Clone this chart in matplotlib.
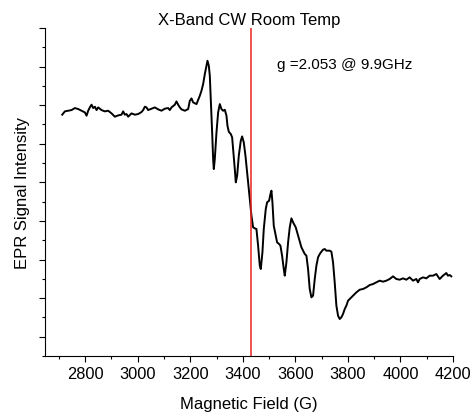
import matplotlib
matplotlib.use("Agg")
import matplotlib.pyplot as plt
from matplotlib.ticker import MultipleLocator, NullFormatter

plt.rcParams['font.family'] = ['Liberation Sans', 'DejaVu Sans']

# spettro EPR (campo in G, intensita' in unita' arbitrarie)
field = [2712.6, 2722.7, 2735.4, 2748.1, 2760.8, 2773.5, 2786.1, 2798.8, 2805.2, 2811.5,
         2817.8, 2824.2, 2830.5, 2836.9, 2843.2, 2849.5, 2862.2, 2874.9, 2887.6, 2900.3,
         2906.6, 2913.0, 2925.6, 2938.3, 2944.6, 2951.0, 2957.3, 2963.7, 2976.3, 2989.0,
         3001.7, 3014.4, 3020.7, 3027.1, 3033.4, 3039.7, 3052.4, 3065.1, 3077.8, 3090.5,
         3103.1, 3115.8, 3122.2, 3128.5, 3141.2, 3147.5, 3153.9, 3160.2, 3166.5,
         3179.3, 3192.0, 3198.3, 3204.7, 3211.0, 3223.7, 3236.4, 3242.7, 3249.0, 3255.4,
         3261.7, 3265.5, 3270.6, 3274.4, 3278.2, 3283.3, 3287.1, 3289.6, 3293.4, 3299.8,
         3306.1, 3312.4, 3318.8, 3325.1, 3331.5, 3337.8, 3341.6, 3346.7, 3354.3, 3359.4,
         3363.2, 3369.5, 3373.3, 3378.4, 3384.7, 3392.3, 3397.4, 3403.7, 3410.1, 3416.4,
         3422.8,
         3432.9, 3439.2, 3445.6, 3451.9, 3458.2, 3464.6, 3468.4, 3474.7, 3479.8, 3487.4,
         3492.5, 3500.1, 3505.2, 3509.0, 3512.8, 3517.8, 3525.4, 3530.5, 3538.1, 3543.2,
         3549.5, 3555.9, 3559.7, 3566.0, 3572.4, 3578.7, 3585.0, 3591.4, 3601.5, 3610.4,
         3623.1, 3635.8, 3642.1, 3648.4,
         3654.7, 3661.1, 3667.4, 3673.8, 3680.1, 3686.4, 3692.8, 3699.1, 3705.5, 3711.8,
         3718.1, 3730.8, 3737.2, 3743.5, 3749.8, 3756.2, 3762.5, 3768.9, 3775.2, 3781.5,
         3787.9, 3794.2, 3800.6, 3806.9, 3819.6, 3832.3, 3845.0, 3857.6, 3870.3, 3883.0,
         3895.7, 3908.3, 3921.0, 3933.7, 3946.4, 3959.1, 3971.7, 3984.4, 3997.1, 4009.8,
         4022.5, 4035.1, 4047.8, 4060.5, 4066.8, 4073.2, 4085.9, 4098.5, 4111.2, 4123.9,
         4136.6, 4149.3, 4161.9, 4174.6, 4180.9, 4187.3, 4193.6]
intensity = [6.253, 6.339, 6.356, 6.373, 6.425, 6.399, 6.356, 6.313, 6.227, 6.356,
             6.442, 6.512, 6.425, 6.460, 6.373, 6.442, 6.373, 6.339, 6.356, 6.287,
             6.244, 6.201, 6.235, 6.253, 6.339, 6.253, 6.270, 6.201, 6.287, 6.253,
             6.270, 6.322, 6.373, 6.460, 6.442, 6.373, 6.408, 6.442, 6.391, 6.356,
             6.408, 6.425, 6.373, 6.442, 6.512, 6.598, 6.512, 6.442, 6.391,
             6.355, 6.399, 6.614, 6.675, 6.571, 6.528, 6.744, 6.874, 7.046, 7.305,
             7.521, 7.651, 7.521, 7.262, 6.658, 5.794, 5.103, 4.844, 5.103, 5.794,
             6.312, 6.528, 6.399, 6.355, 6.381, 6.226, 5.967, 5.811, 5.751, 5.664,
             5.362, 4.844, 4.499, 4.671, 5.190, 5.578, 5.690, 5.535, 5.190, 4.758,
             4.326,
             3.636, 3.334, 3.308, 3.291, 2.859, 2.341, 2.254, 2.686, 3.291, 3.809,
             3.981, 4.025, 4.197, 4.284, 3.981, 3.377, 3.118, 2.945, 2.902, 2.859,
             2.600, 2.254, 2.081, 2.427, 2.945, 3.334, 3.567, 3.463, 3.334, 3.118,
             2.816, 2.643, 2.600, 2.254,
             1.736, 1.520, 1.563, 1.995, 2.340, 2.556, 2.642, 2.703, 2.755, 2.772,
             2.729, 2.729, 2.703, 2.427, 1.908, 1.304, 1.045, 0.958, 1.002, 1.088,
             1.217, 1.304, 1.433, 1.477, 1.563, 1.649, 1.718, 1.736, 1.779, 1.839,
             1.865, 1.908, 1.952, 1.926, 1.952, 1.995, 2.064, 1.995, 1.977, 2.012,
             1.977, 2.038, 1.952, 1.995, 1.908, 1.995, 2.038, 2.012, 2.081, 2.081,
             2.124, 1.995, 2.081, 2.150, 2.081, 2.098, 2.064]

g_field = 3430
x_ticks = [2800, 3000, 3200, 3400, 3600, 3800, 4000, 4200]

fig = plt.figure(figsize=(4.72, 4.14), dpi=100)
ax = fig.add_axes([0.0953, 0.1377, 0.8644, 0.7923])

ax.plot(field, intensity, color='black', lw=1.4)
ax.axvline(g_field, color='#e8231f', lw=1.1)

ax.set_xlim(2647, 4200)
ax.set_ylim(0, 8.5)
ax.set_xticks(x_ticks)
ax.xaxis.set_minor_locator(MultipleLocator(100))
ax.set_yticks([0.5 + k for k in range(9)])
ax.yaxis.set_minor_locator(MultipleLocator(1))
ax.yaxis.set_major_formatter(NullFormatter())

for s in ['top', 'right']:
    ax.spines[s].set_visible(False)
for s in ['left', 'bottom']:
    ax.spines[s].set_linewidth(0.8)

ax.tick_params(which='major', direction='out', length=4, width=0.8, labelsize=11.8, pad=3)
ax.tick_params(which='minor', direction='out', length=2.5, width=0.8)

ax.set_title("X-Band CW Room Temp", fontsize=12, pad=3)
ax.set_xlabel("Magnetic Field (G)", fontsize=12, labelpad=11)
ax.set_ylabel("EPR Signal Intensity", fontsize=12, labelpad=4)
ax.text(3529, 7.56, "g =2.053 @ 9.9GHz", fontsize=11, ha='left', va='center')

fig.savefig("out.png", dpi=100)
